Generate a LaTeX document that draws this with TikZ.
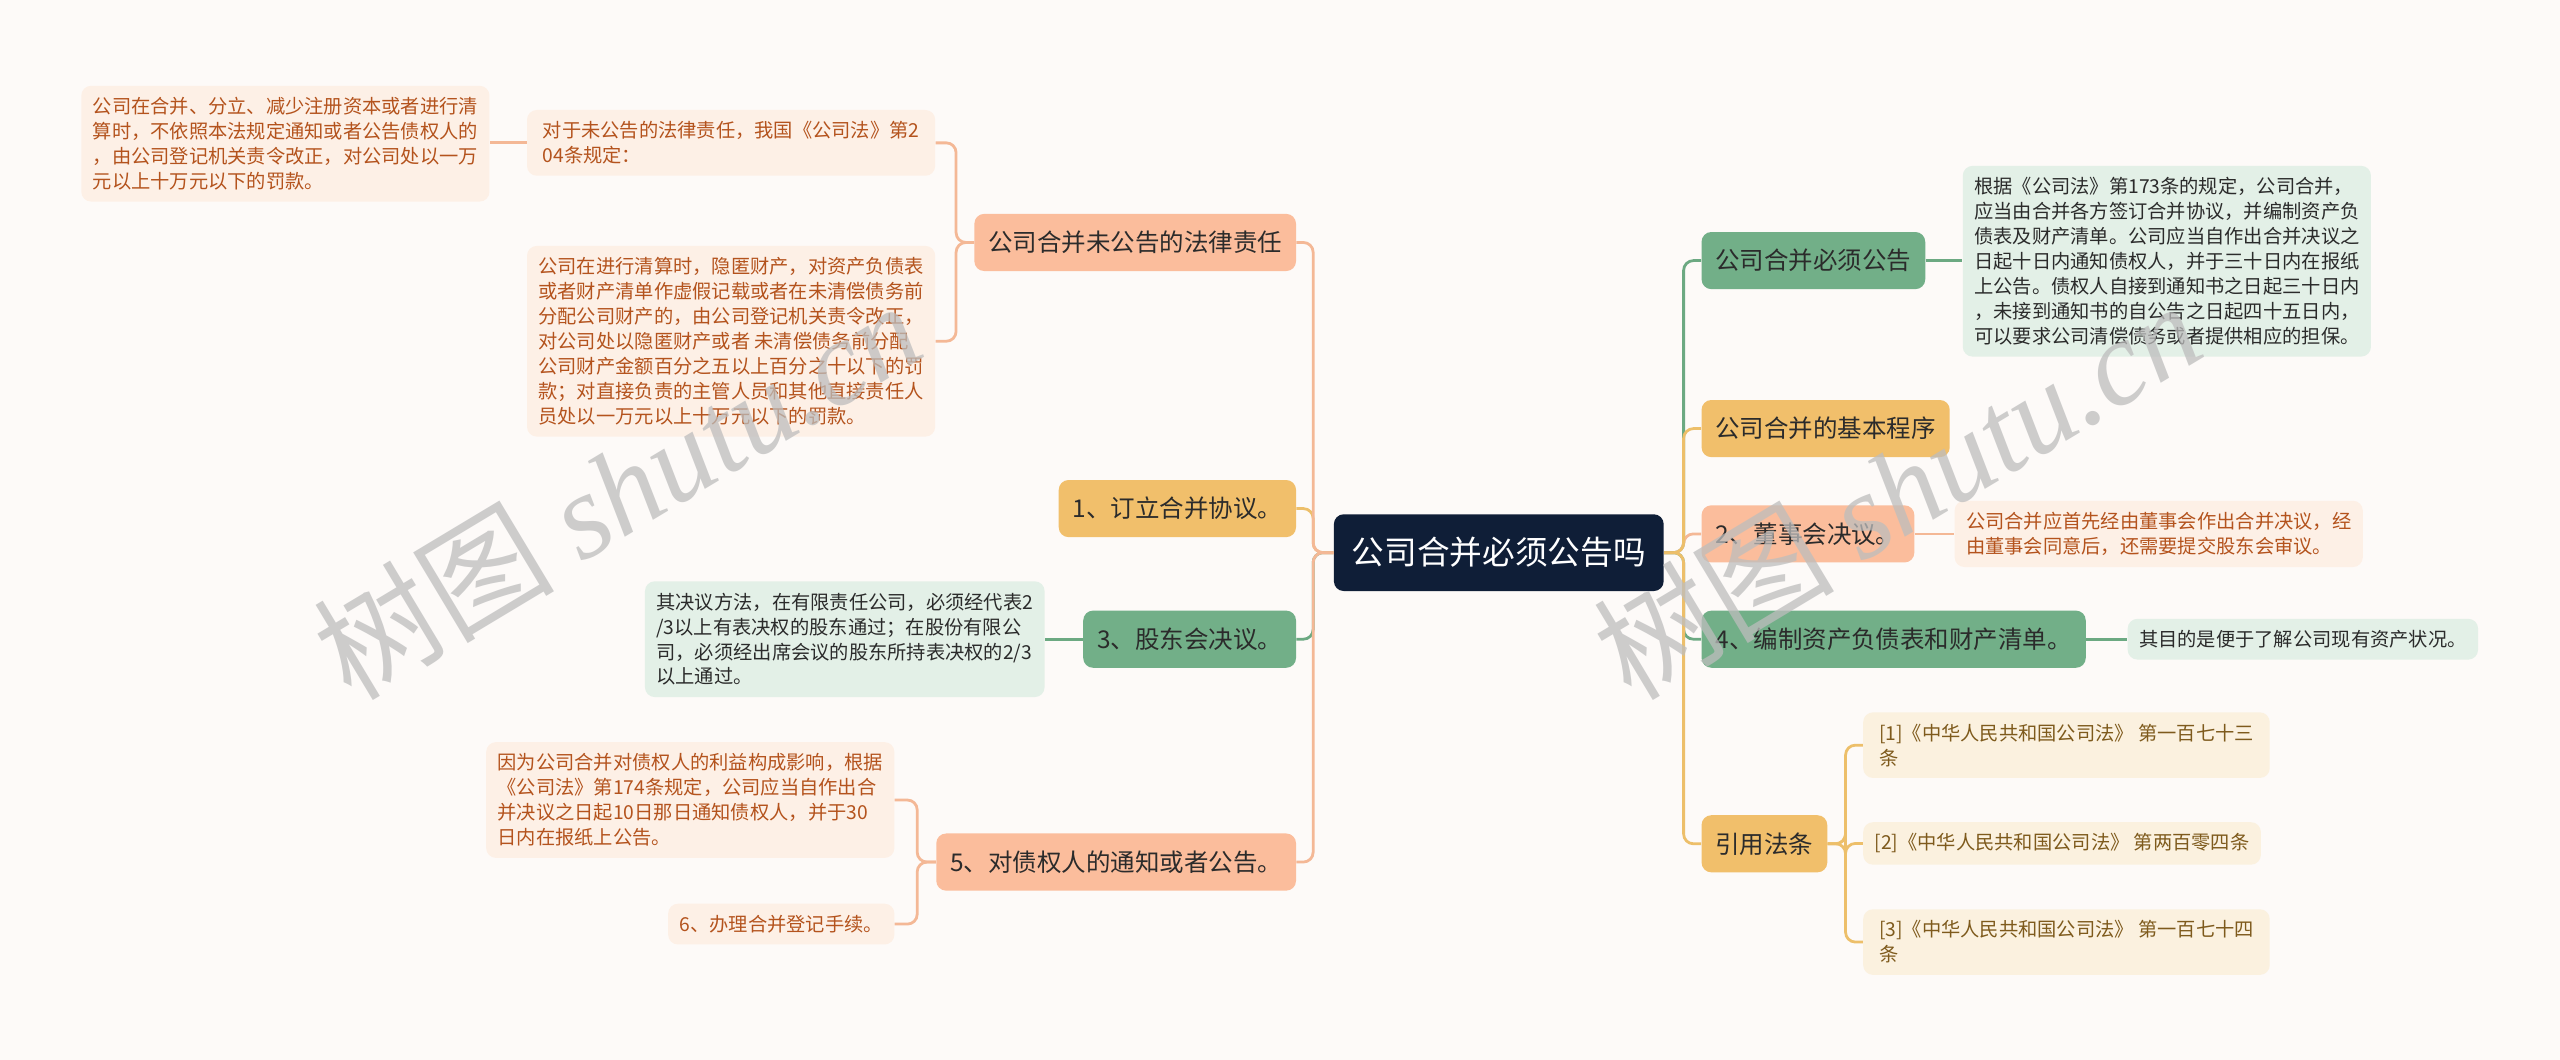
\documentclass[tikz,border=0pt]{standalone}
\usepackage{fontspec}
\setmainfont{Noto Sans CJK SC}
\newfontfamily\markserif{Liberation Serif}
\usepackage{tikz}
\usetikzlibrary{positioning}
\usepackage{xcolor}

\definecolor{bgpaper}{HTML}{FDFAF8}
\definecolor{rootnavy}{HTML}{0F1E37}
\definecolor{salmonfill}{HTML}{FBBD9C}
\definecolor{goldfill}{HTML}{F1BF6B}
\definecolor{greenfill}{HTML}{72AF88}
\definecolor{peachnote}{HTML}{FDF0E6}
\definecolor{mintnote}{HTML}{E3F0E7}
\definecolor{creamnote}{HTML}{FBF1DF}
\definecolor{rusttext}{HTML}{B4531D}
\definecolor{browntext}{HTML}{7E5A1C}
\definecolor{inktext}{HTML}{2B2B2B}
\definecolor{salmonline}{HTML}{F4B896}
\definecolor{goldline}{HTML}{EDBF6A}
\definecolor{greenline}{HTML}{6CA982}
\definecolor{markgray}{HTML}{BDBDBD}

\tikzset{
  rootbox/.style={fill=rootnavy, text=white, rounded corners=6pt,
    minimum height=47pt, inner xsep=11pt, font=\fontsize{20}{24}\selectfont},
  topicbox/.style={rounded corners=6pt, minimum height=35pt, inner xsep=8.5pt,
    text=inktext, font=\fontsize{15}{18}\selectfont},
  notebox/.style={rounded corners=6pt, align=left, inner xsep=7pt, inner ysep=7pt,
    font=\fontsize{11.8}{15.3}\selectfont},
  rustbox/.style={notebox, fill=peachnote, text=rusttext},
  mintbox/.style={notebox, fill=mintnote, text=inktext},
  creambox/.style={notebox, fill=creamnote, text=browntext},
  link/.style={line width=1.7pt, rounded corners=6pt},
  markbox/.style={text=markgray, opacity=0.75, rotate=31, anchor=base west,
    font=\fontsize{74}{84}\selectfont},
}

\begin{document}
\begin{tikzpicture}[x=1pt, y=-1pt]
        \fill[bgpaper] (0,0) rectangle (1568,649);
        \useasboundingbox (0,0) rectangle (1568,649);

        \node[rootbox] (root) at (918,338.5) {公司合并必须公告吗};

        % right branch
        \node[topicbox, fill=greenfill, anchor=west] (must) at (1042,159.6) {公司合并必须公告};
        \node[mintbox, anchor=west] (mustnote) at (1202,160)
              {根据《公司法》第173条的规定，公司合并，\\
               应当由合并各方签订合并协议，并编制资产负\\
               债表及财产清单。公司应当自作出合并决议之\\
               日起十日内通知债权人，并于三十日内在报纸\\
               上公告。债权人自接到通知书之日起三十日内\\
               ，未接到通知书的自公告之日起四十五日内，\\
               可以要求公司清偿债务或者提供相应的担保。};
        \node[topicbox, fill=goldfill, anchor=west] (steps) at (1042,262.5) {公司合并的基本程序};
        \node[topicbox, fill=salmonfill, anchor=west] (board) at (1042,327) {2、董事会决议。};
        \node[rustbox, anchor=west] (boardnote) at (1197,327)
              {公司合并应首先经由董事会作出合并决议，经\\
               由董事会同意后，还需要提交股东会审议。};
        \node[topicbox, fill=greenfill, anchor=west] (sheet) at (1042,391.5) {4、编制资产负债表和财产清单。};
        \node[mintbox, anchor=west] (sheetnote) at (1303,391.5) {其目的是便于了解公司现有资产状况。};
        \node[topicbox, fill=goldfill, anchor=west] (laws) at (1042,516.8) {引用法条};
        \node[creambox, anchor=west, minimum width=249pt] (law1) at (1141,456.4)
              {[1]《中华人民共和国公司法》 第一百七十三\\条};
        \node[creambox, anchor=west] (law2) at (1141,516.6)
              {[2]《中华人民共和国公司法》 第两百零四条};
        \node[creambox, anchor=west, minimum width=249pt] (law3) at (1141,577)
              {[3]《中华人民共和国公司法》 第一百七十四\\条};

        % left branch
        \node[topicbox, fill=salmonfill, anchor=east] (duty) at (794,148.5) {公司合并未公告的法律责任};
        \node[rustbox, anchor=east, minimum width=250pt] (dutylaw) at (573,87.5)
              {对于未公告的法律责任，我国《公司法》第2\\
               04条规定：};
        \node[rustbox, anchor=east] (dutyfine) at (300,88)
              {公司在合并、分立、减少注册资本或者进行清\\
               算时，不依照本法规定通知或者公告债权人的\\
               ，由公司登记机关责令改正，对公司处以一万\\
               元以上十万元以下的罚款。};
        \node[rustbox, anchor=east] (dutyhide) at (573,209)
              {公司在进行清算时，隐匿财产，对资产负债表\\
               或者财产清单作虚假记载或者在未清偿债务前\\
               分配公司财产的，由公司登记机关责令改正，\\
               对公司处以隐匿财产或者 未清偿债务前分配\\
               公司财产金额百分之五以上百分之十以下的罚\\
               款；对直接负责的主管人员和其他直接责任人\\
               员处以一万元以上十万元以下的罚款。};
        \node[topicbox, fill=goldfill, anchor=east] (sign) at (794,311.5) {1、订立合并协议。};
        \node[topicbox, fill=greenfill, anchor=east] (vote) at (794,391.5) {3、股东会决议。};
        \node[mintbox, anchor=east] (votenote) at (640,391.5)
              {其决议方法，在有限责任公司，必须经代表2\\
               /3以上有表决权的股东通过；在股份有限公\\
               司，必须经出席会议的股东所持表决权的2/3\\
               以上通过。};
        \node[topicbox, fill=salmonfill, anchor=east] (notify) at (794,528) {5、对债权人的通知或者公告。};
        \node[rustbox, anchor=east] (notifynote) at (548,490)
              {因为公司合并对债权人的利益构成影响，根据\\
               《公司法》第174条规定，公司应当自作出合\\
               并决议之日起10日那日通知债权人，并于30\\
               日内在报纸上公告。};
        \node[rustbox, anchor=east] (register) at (548,566) {6、办理合并登记手续。};

        % connectors
        \draw[link, greenline] (root.east) -- ++(12,0) |- (must.west);
        \draw[link, salmonline] (root.east) -- ++(12,0) |- (board.west);
        \draw[link, greenline] (root.east) -- ++(12,0) |- (sheet.west);
        \draw[link, goldline] (root.east) -- ++(12,0) |- (laws.west);
        \draw[link, goldline] (root.east) -- ++(12,0) |- (steps.west);
        \draw[link, greenline] (root.west) -- ++(-12.5,0) |- (vote.east);
        \draw[link, goldline] (root.west) -- ++(-12.5,0) |- (sign.east);
        \draw[link, salmonline] (root.west) -- ++(-12.5,0) |- (duty.east);
        \draw[link, salmonline] (root.west) -- ++(-12.5,0) |- (notify.east);

        \draw[link, greenline] (must.east) -- (must.east -| mustnote.west);
        \draw[link, salmonline] (board.east) -- (board.east -| boardnote.west);
        \draw[link, greenline] (sheet.east) -- (sheet.east -| sheetnote.west);
        \draw[link, goldline] (laws.east) -- ++(11,0) |- (law1.west);
        \draw[link, goldline] (laws.east) -- ++(11,0) |- (law2.west);
        \draw[link, goldline] (laws.east) -- ++(11,0) |- (law3.west);

        \draw[link, salmonline] (duty.west) -- ++(-11,0) |- (dutylaw.east);
        \draw[link, salmonline] (duty.west) -- ++(-11,0) |- (dutyhide.east);
        \draw[link, salmonline] (dutylaw.west) -- (dutylaw.west -| dutyfine.east);
        \draw[link, greenline] (vote.west) -- (vote.west -| votenote.east);
        \draw[link, salmonline] (notify.west) -- ++(-11.5,0) |- (notifynote.east);
        \draw[link, salmonline] (notify.west) -- ++(-11.5,0) |- (register.east);

        % watermark
        \node[markbox] (markleft) at (212,432) {树图 {\markserif\itshape shutu.cn}};
        \node[markbox] (markright) at (996,432) {树图 {\markserif\itshape shutu.cn}};
\end{tikzpicture}
\end{document}
